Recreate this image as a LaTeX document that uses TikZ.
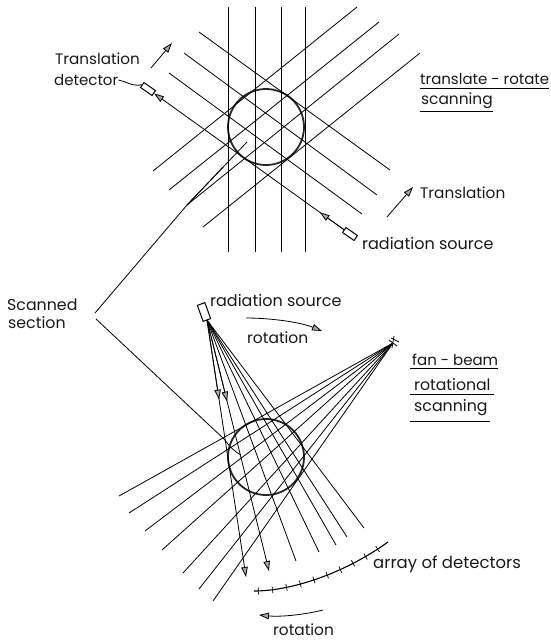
\documentclass[tikz,border=0pt]{standalone}
\usepackage{fontspec}
\setmainfont{Poppins}
\usetikzlibrary{arrows.meta,calc,decorations.markings}
\tikzset{
  ray/.style={draw=black,line width=0.8pt},
  ringc/.style={circle,draw=black!85,line width=1.8pt,minimum size=76pt,inner sep=0pt},
  tip/.style={-{Triangle[length=10pt,width=6.5pt,fill=black!35]}},
  box/.style={rectangle,draw=black,line width=1pt,fill=white,minimum width=14pt,minimum height=6pt,inner sep=0pt},
  lab/.style={anchor=west,inner sep=0pt,font=\fontsize{#1}{18}\selectfont,text=black!90},
  lab/.default=15.5,
  under/.style={draw=black,line width=1pt},
}
\begin{document}
\begin{tikzpicture}[x=1pt,y=-1pt]
\useasboundingbox (0,0) rectangle (551,641);
% ---------- upper diagram
\node[ringc] (c1) at (266,127) {};
\foreach \n/\x in {a/228,b/255,c/281,d/305}{
  \coordinate (v\n t) at (\x,7);
  \coordinate (v\n b) at (\x,252);
  \draw[ray] (v\n t) -- (v\n b);
}
\foreach \n/\xa/\ya/\xb/\yb in {a/199/32/390/170,b/184/53/377/195,c/169/73/362/214,
   d/357/7/153/171,e/379/22/169/190,f/399/34/187/205,g/420/53/203/227}{
  \coordinate (d\n 1) at (\xa,\ya);
  \coordinate (d\n 2) at (\xb,\yb);
  \draw[ray] (d\n 1) -- (d\n 2);
}
\node[box,rotate=-35] (det) at (148,89) {};
\node[box,rotate=-35] (src) at (350,234) {};
\draw[ray,tip] (src) -- (det);
\draw[ray,tip] (src) -- ($(det)!0.85!(src)$);
\coordinate (tra) at (151,68); \coordinate (trb) at (172,43);
\coordinate (tsa) at (387,217); \coordinate (tsb) at (413,187);
\draw[ray,tip] (tra) -- (trb);
\draw[ray,tip] (tsa) -- (tsb);
\node[lab=15.2] (ltrans) at (55,59) {Translation};
\node[lab=15] (ldet) at (54,80) {detector};
\draw[ray] (ldet.east) .. controls (126,81) and (132,87) .. (det.west);
\node[lab=15] (ltr) at (420,79) {translate - rotate};
\node[lab=15.4] (lsc) at (421,101) {scanning};
\draw[under] (420,88) -- (549,88);
\draw[under] (420,111) -- (493,111);
\node[lab=15.3] (ltr2) at (420,193) {Translation};
\node[lab=16] (lrs) at (362,243) {radiation source};
% ---------- scanned section
\node[lab=15.8] (ls1) at (7,305) {Scanned};
\node[lab=15.8] (ls2) at (8,323) {section};
\coordinate (sa) at (95,313); \coordinate (sa2) at (187,205); \coordinate (sa3) at (247,142);
\coordinate (sb) at (96,319); \coordinate (sb2) at (224,439); \coordinate (sb3) at (241,455);
\draw[ray] (sa) -- (sa2) -- (sa3);
\draw[ray] (sa2) -- ($(sa2)!0.6!(sa3)$);
\draw[ray] (sb) -- (sb2) .. controls (230,447) and (235,452) .. (sb3);
% ---------- lower diagram
\node[ringc] (c2) at (266,457) {};
\node[box,rotate=-70,minimum width=17pt,minimum height=8pt] (src2) at (204,312) {};
\coordinate (ap1) at (207,320);
\coordinate (ap2) at (393,343);
\foreach \n/\x/\y in {1/364/528,2/347/537,3/336/545,4/319/552,5/296/561}{
  \coordinate (e\n) at (\x,\y);
  \draw[ray] (ap1) -- (e\n);
}
\coordinate (e6) at (269,571); \coordinate (e7) at (246,577);
\draw[ray,tip] (ap1) -- (e6);
\draw[ray,tip] (ap1) -- (e7);
\draw[ray,tip] (ap1) -- ($(ap1)!0.325!(e6)$);
\draw[ray,tip] (ap1) -- ($(ap1)!0.31!(e7)$);
\foreach \n/\x/\y in {1/119/496,2/129/513,3/145/531,4/162/550,5/183/573,6/199/589,7/213/601}{
  \coordinate (f\n) at (\x,\y);
  \draw[ray] (ap2) -- (f\n);
}
\draw[ray] (389,340) -- (397,346);
\draw[ray] (391,338) -- (399,342);
\draw[ray] (394,336) -- (392,348);
\coordinate (ra) at (246,318); \coordinate (rb) at (322,331);
\draw[ray,tip] (ra) .. controls (270,318) and (300,322) .. (rb);
\coordinate (rc) at (323,610); \coordinate (rd) at (259,615);
\draw[ray,tip] (rc) .. controls (303,615) and (280,617) .. (rd);
\coordinate (aa) at (254,591); \coordinate (ab) at (388,542);
\draw[line width=1.1pt,decoration={markings,mark=between positions 0.03 and 0.99 step 14.2pt with {\draw[line width=0.7pt] (0,-3.5pt) -- (0,3.5pt);}},postaction={decorate}]
  (aa) .. controls (292,591) and (345,573) .. (ab);
\node[lab=16] (lrs2) at (210,300) {radiation source};
\node[lab=15.5] (lrot) at (247,338) {rotation};
\node[lab=15] (lfan) at (412,360) {fan - beam};
\node[lab=15.7] (lrt) at (414,385) {rotational};
\node[lab=15.8] (lsc2) at (414,408) {scanning};
\draw[under] (410,368) -- (498,368);
\draw[under] (410,394) -- (494,394);
\draw[under] (410,421) -- (490,421);
\node[lab=16.5] (larr) at (373,564) {array of detectors};
\node[lab=15.4] (lrot2) at (273,630) {rotation};
\end{tikzpicture}
\end{document}
